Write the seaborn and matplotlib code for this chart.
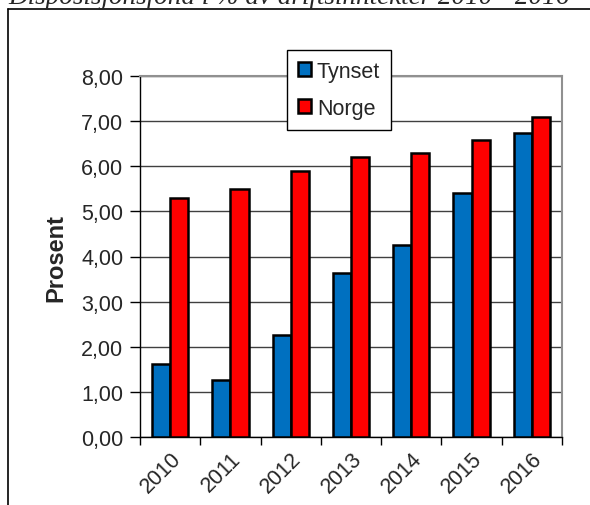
import matplotlib
matplotlib.use("Agg")
import matplotlib.pyplot as plt
import seaborn as sns
import pandas as pd
import numpy as np
from matplotlib.ticker import FuncFormatter, FixedLocator

years = ["2010", "2011", "2012", "2013", "2014", "2015", "2016"]
tynset = [1.62, 1.26, 2.26, 3.64, 4.26, 5.41, 6.74]
norge = [5.30, 5.50, 5.90, 6.21, 6.30, 6.59, 7.10]
series = ["Tynset", "Norge"]
colors = ["#0070C0", "#FF0000"]

df = pd.DataFrame({
    "year": years * 2,
    "value": tynset + norge,
    "series": [series[0]] * len(years) + [series[1]] * len(years),
})

sns.set_style("white")
plt.rcParams["font.family"] = ["Liberation Sans", "DejaVu Sans"]

fig = plt.figure(figsize=(5.9, 5.06), dpi=100)
ax = fig.add_axes([140 / 590, 1 - 438 / 506, 422 / 590, 361 / 506])

sns.barplot(data=df, x="year", y="value", hue="series", palette=colors,
            width=0.6, gap=0, edgecolor="black", linewidth=1.8,
            saturation=1, ax=ax, zorder=3)

ax.set_ylim(0, 8)
ax.set_xlim(-0.5, len(years) - 0.5)
ax.set_yticks(np.arange(0, 9, 1))
ax.yaxis.set_major_formatter(FuncFormatter(lambda v, p: f"{v:.2f}".replace(".", ",")))
ax.grid(axis="y", color="#404040", linewidth=1, zorder=0)
ax.set_axisbelow(True)

ax.set_xlabel("")
ax.set_ylabel("Prosent", fontsize=17, fontweight="bold", labelpad=10)
ax.tick_params(axis="y", labelsize=15.5, length=7, width=1, color="black",
               direction="out", left=True, pad=5)
ax.tick_params(axis="x", which="major", labelsize=15.5, length=0, pad=8)
ax.xaxis.set_minor_locator(FixedLocator(np.arange(-0.5, len(years), 1)))
ax.tick_params(axis="x", which="minor", length=6, width=1, color="black", bottom=True)
for lab in ax.get_xticklabels():
    lab.set_rotation(45)
    lab.set_ha("right")
    lab.set_rotation_mode("anchor")

for side in ["left", "bottom"]:
    ax.spines[side].set_color("black")
    ax.spines[side].set_linewidth(1)
for side in ["top", "right"]:
    ax.spines[side].set_color("#909090")
    ax.spines[side].set_linewidth(1.5)

handles, labels = ax.get_legend_handles_labels()
leg = ax.legend(handles, labels, loc="upper left", bbox_to_anchor=(0.348, 1.072),
                fontsize=15.5, frameon=True, fancybox=False, edgecolor="black",
                handlelength=0.6, handleheight=0.6, handletextpad=0.3,
                borderpad=0.5, labelspacing=0.75, borderaxespad=0, framealpha=1)
leg.get_frame().set_linewidth(1)

# outer frame and cut-off heading
fig.add_artist(plt.Line2D([8 / 590, 8 / 590], [0, 1 - 10 / 506], color="black", lw=1.2))
fig.add_artist(plt.Line2D([8 / 590, 1], [1 - 10 / 506, 1 - 10 / 506], color="black", lw=1.2))
fig.text(8 / 590, 1 - 4 / 506, "Disposisjonsfond i % av driftsinntekter 2010 - 2016",
         family="Liberation Serif", style="italic", fontsize=19.5, va="baseline", ha="left")

fig.savefig("out.png", dpi=100)
